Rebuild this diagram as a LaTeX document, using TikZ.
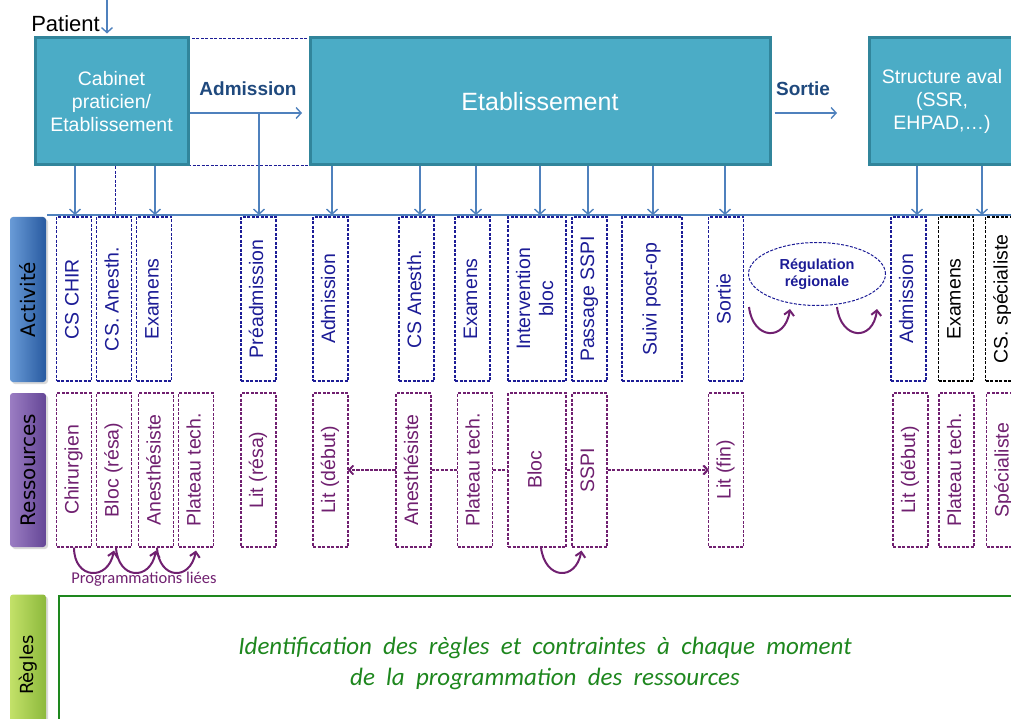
\documentclass[tikz,border=0pt]{standalone}
\usepackage{fontspec}
\setmainfont{Liberation Sans}
\newfontfamily\lanefont{DejaVu Sans}
\newfontfamily\calfont{Carlito}
\usetikzlibrary{arrows.meta,shapes.geometric,shadows}
\definecolor{tealA}{RGB}{75,172,198}
\definecolor{tealB}{RGB}{49,133,155}
\definecolor{arrblue}{RGB}{79,129,189}
\definecolor{navyA}{RGB}{31,73,125}
\definecolor{actc}{RGB}{28,28,150}
\definecolor{resc}{RGB}{112,32,112}
\definecolor{rulec}{RGB}{30,135,30}
\newcommand{\vtext}[1]{\rotatebox{90}{\begin{tabular}{@{}c@{}}#1\end{tabular}}}
\newcommand{\widesp}{\spaceskip=0.45em\relax}
\begin{document}
\begin{tikzpicture}[x=1pt,y=-1pt,
  topbox/.style={draw=tealB, line width=3pt, fill=tealA, text=white, align=center, inner sep=0pt},
  arr/.style={draw=arrblue, line width=1.4pt, -{Straight Barb[length=5pt,width=11pt,line width=1.4pt]}},
  fdash/.style={dash pattern=on 3pt off 1.5pt},
  actbox/.style={draw=actc, fdash, line width=1.1pt, fill=white, text=actc, inner sep=0pt,
     minimum width=35, minimum height=164, font=\fontsize{19.5}{23}\selectfont},
  blkbox/.style={actbox, draw=black, text=black},
  resbox/.style={draw=resc, fdash, line width=1.1pt, fill=white, text=resc, inner sep=0pt,
     minimum width=35, minimum height=154, font=\fontsize{19.5}{23}\selectfont},
  lane/.style={rounded corners=3pt, inner sep=0pt, minimum width=36, drop shadow={opacity=0.3,shadow xshift=2pt,shadow yshift=-2pt}},
  curv/.style={draw=resc, line width=2pt, -{Straight Barb[length=5pt,width=10pt,line width=2pt]}},
  resdash/.style={draw=resc, fdash, line width=1.2pt},
  resarr/.style={resdash, -{Straight Barb[length=4pt,width=9pt,line width=1.4pt]}}
]
\useasboundingbox (0,0) rectangle (1011,719);
\clip (0,0) rectangle (1011,719);

% top row
\node[draw=actc, fdash, line width=0.9pt, minimum width=122, minimum height=127, inner sep=0pt] (admzone) at (249,101.5) {};
\node[topbox, minimum width=153, minimum height=127, font=\fontsize{19.5}{23.3}\selectfont] (cab) at (111.5,101.5) {Cabinet\\praticien/\\Etablissement};
\node[topbox, minimum width=460, minimum height=127, font=\fontsize{25}{28}\selectfont] (etab) at (540,101.5) {Etablissement};
\node[topbox, minimum width=146, minimum height=127, font=\fontsize{19.5}{23.3}\selectfont] (aval) at (942,101.5) {Structure aval\\(SSR,\\EHPAD,\dots)};
\node[anchor=base east, inner sep=0pt, font=\fontsize{22}{24}\selectfont] (patient) at (100,32) {Patient};
\node[text=navyA, font=\bfseries\fontsize{19}{22}\selectfont] (admlbl) at (248,89) {Admission};
\node[text=navyA, font=\bfseries\fontsize{19}{22}\selectfont] (sortlbl) at (803,89) {Sortie};

\coordinate (pin) at (107,0);
\draw[arr, shorten >=3pt] (pin) -- (pin |- cab.north);
\draw[arr] (cab.east |- 0,113) -- (302,113) coordinate (admend);
\coordinate (admjoin) at (259,113);
\draw[arr] (etab.east |- 0,113) ++(3,0) -- (837,113) coordinate (sortend);

% bus
\coordinate (busW) at (47,215);
\coordinate (busE) at (1011,215);
\draw[draw=arrblue, line width=1.4pt] (busW) -- (busE);
\foreach \n/\x in {t1/75,t2/155,t3/115,t4/259,t5/332,t6/420,t7/476,t8/540,t9/588,t10/653,t11/725,t12/917,t13/982}
  \coordinate (\n) at (\x,215);
\draw[arr] (cab.south -| t1) -- (t1);
\draw[arr] (cab.south -| t2) -- (t2);
\draw[draw=actc, fdash, line width=1pt] (cab.south -| t3) -- (t3);
\draw[arr] (admjoin) -- (t4);
\foreach \n in {t5,t6,t7,t8,t9,t10,t11}
  \draw[arr] (etab.south -| \n) -- (\n);
\draw[arr] (aval.south -| t12) -- (t12);
\draw[arr] (aval.south -| t13) -- (t13);

% lane labels
\node[lane, minimum height=165, left color={rgb,255:red,105;green,155;blue,215}, right color={rgb,255:red,40;green,90;blue,160}] (lact) at (28,299.5) {\lanefont\fontsize{20}{22}\selectfont\rotatebox{90}{Activité}};
\node[lane, minimum height=154, left color={rgb,255:red,155;green,125;blue,195}, right color={rgb,255:red,100;green,70;blue,150}] (lres) at (28,470) {\lanefont\fontsize{20}{22}\selectfont\rotatebox{90}{Ressources}};
\node[lane, minimum height=135, left color={rgb,255:red,195;green,225;blue,105}, right color={rgb,255:red,140;green,185;blue,60}] (lreg) at (28,662) {};
\node[inner sep=0pt] (lregt) at (28,665) {\lanefont\fontsize{18}{20}\selectfont\rotatebox{90}{Règles}};

% activity boxes
\node[actbox] (a1) at (74,299) {\vtext{CS CHIR}};
\node[actbox] (a2) at (114,299) {\vtext{CS. Anesth.}};
\node[actbox] (a3) at (154,299) {\vtext{Examens}};
\node[actbox] (a4) at (258.5,299) {\vtext{Préadmission}};
\node[actbox] (a5) at (330.5,299) {\vtext{Admission}};
\node[actbox] (a6) at (416.5,299) {\vtext{CS Anesth.}};
\node[actbox] (a7) at (472.5,299) {\vtext{Examens}};
\node[actbox, minimum width=58] (a8) at (537,299) {\vtext{Intervention\\bloc}};
\node[actbox] (a9) at (589.5,299) {\vtext{Passage SSPI}};
\node[actbox, minimum width=60] (a10) at (652,299) {\vtext{Suivi post-op}};
\node[actbox] (a11) at (726,299) {\vtext{Sortie}};
\node[actbox] (a12) at (908.5,299) {\vtext{Admission}};
\node[blkbox] (a13) at (956,299) {\vtext{Examens}};
\node[blkbox] (a14) at (1003,299) {\vtext{CS. spécialiste}};

% regulation
\node[ellipse, draw=actc, fdash, line width=1pt, minimum width=137, minimum height=63, inner sep=0pt, align=center, text=actc, font=\bfseries\fontsize{14.5}{17}\selectfont] (reg) at (817,274) {Régulation\\régionale};
\coordinate (r1s) at (749,307);
\coordinate (r1e) at (790,309);
\coordinate (r2s) at (837,307);
\coordinate (r2e) at (877,309);
\draw[curv] (r1s) .. controls (753,340) and (785,342) .. (r1e);
\draw[curv] (r2s) .. controls (841,340) and (873,342) .. (r2e);

% resources
\draw[resarr] (413.5,470) -- (348,470);
\draw[resarr] (589.5,470) -- (709,470);
\node[resbox] (r1) at (74,470) {\vtext{Chirurgien}};
\node[resbox] (r2) at (114,470) {\vtext{Bloc (résa)}};
\node[resbox] (r3) at (156,470) {\vtext{Anesthésiste}};
\node[resbox] (r4) at (196,470) {\vtext{Plateau tech.}};
\node[resbox] (r5) at (258.5,470) {\vtext{Lit (résa)}};
\node[resbox] (r6) at (330.5,470) {\vtext{Lit (début)}};
\node[resbox] (r7) at (413.5,470) {\vtext{Anesthésiste}};
\node[resbox] (r8) at (475,470) {\vtext{Plateau tech.}};
\node[resbox, minimum width=58] (r9) at (537,470) {\vtext{Bloc}};
\node[resbox] (r10) at (589.5,470) {\vtext{SSPI}};
\node[resbox] (r11) at (726,470) {\vtext{Lit (fin)}};
\node[resbox] (r12) at (910.5,470) {\vtext{Lit (début)}};
\node[resbox] (r13) at (956.5,470) {\vtext{Plateau tech.}};
\node[resbox] (r14) at (1004,470) {\vtext{Spécialiste}};
\draw[resarr] (r7.west) -- (r6.east);
\draw[resdash] (r7.east) -- (r8.west);
\draw[resdash] (r8.east) -- (r9.west);
\draw[resdash] (r9.east) -- (r10.west);
\draw[resarr] (r10.east) -- (r11.west);

\draw[curv] (r1.south) .. controls ([yshift=-32pt]r1.south) and ([xshift=-6pt,yshift=-34pt]r2.south) .. ([yshift=-3pt]r2.south);
\draw[curv] ([xshift=2pt]r2.south) .. controls ([xshift=4pt,yshift=-32pt]r2.south) and ([xshift=-6pt,yshift=-34pt]r3.south) .. ([yshift=-3pt]r3.south);
\draw[curv] ([xshift=1pt]r3.south) .. controls ([xshift=3pt,yshift=-32pt]r3.south) and ([xshift=-6pt,yshift=-34pt]r4.south) .. ([yshift=-3pt]r4.south);
\draw[curv] ([xshift=4pt]r9.south) .. controls ([xshift=8pt,yshift=-32pt]r9.south) and ([xshift=-14pt,yshift=-34pt]r10.south) .. ([xshift=-8pt,yshift=-3pt]r10.south);
\node[text=resc, font=\calfont\fontsize{16.5}{19}\selectfont] (prog) at (144,579) {Programmations liées};

% rules
\node[draw=rulec, line width=1.5pt, fill=white, minimum width=962, minimum height=140, inner sep=0pt, anchor=north west] (rulebox) at (58,595) {};
\node[text=rulec, align=center, font=\calfont\itshape\fontsize{25}{31}\selectfont\widesp] (rtxt) at (545,663) {Identification des règles et contraintes à chaque moment\\de la programmation des ressources};
\end{tikzpicture}
\end{document}
